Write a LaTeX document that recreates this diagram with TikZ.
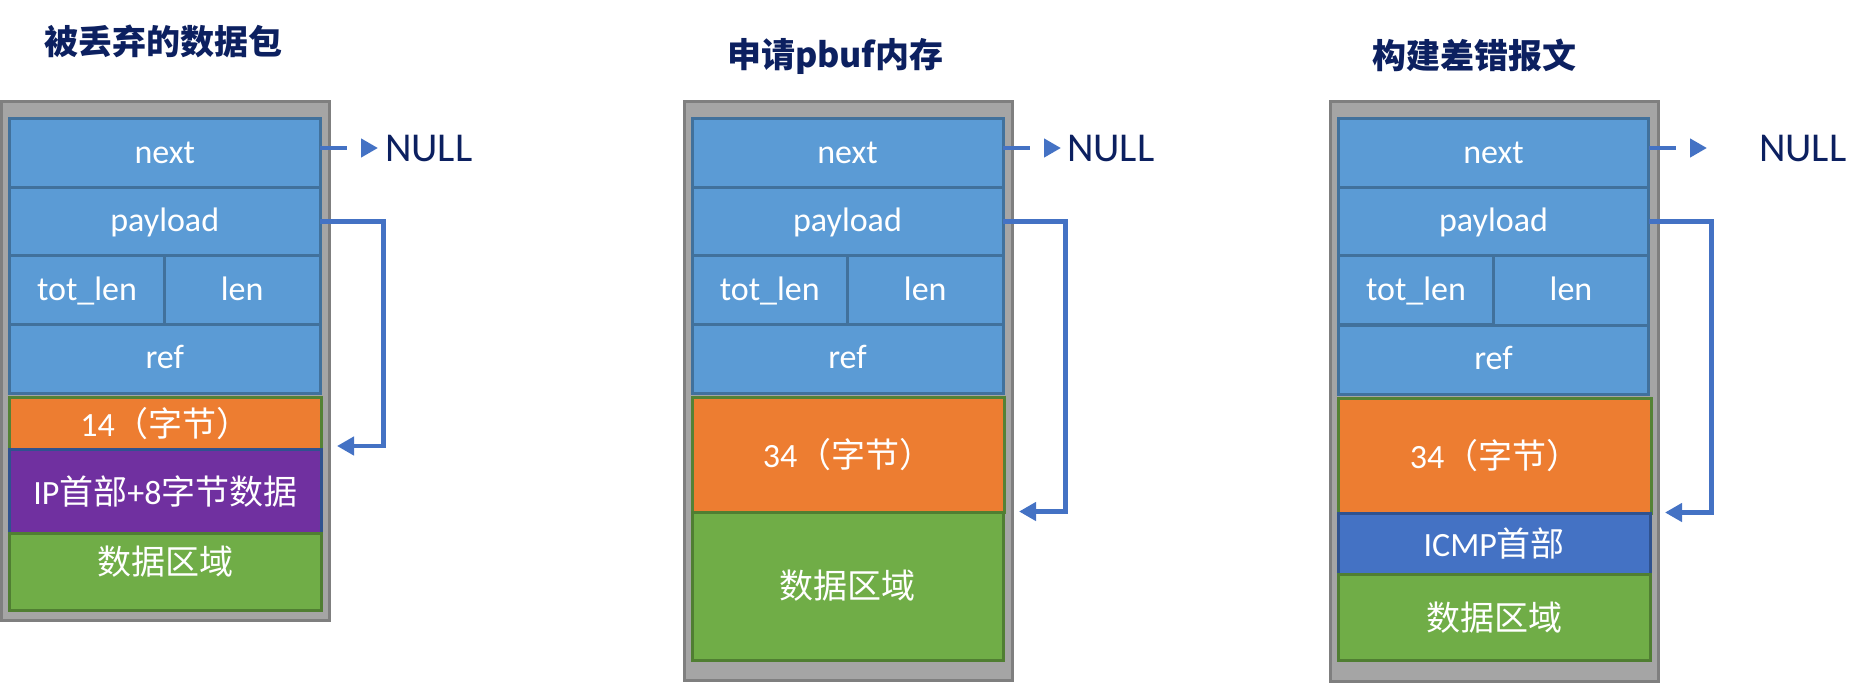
\documentclass[tikz,border=0pt]{standalone}
\usepackage{fontspec}
\setmainfont{Carlito}
\newfontfamily\cjk{Noto Sans CJK SC}
\usetikzlibrary{positioning, arrows.meta, calc}
\definecolor{shellgray}{RGB}{165,165,165}
\definecolor{shellline}{RGB}{127,127,127}
\definecolor{fieldblue}{RGB}{91,155,213}
\definecolor{fieldline}{RGB}{65,113,156}
\definecolor{hdrorange}{RGB}{237,125,49}
\definecolor{hdrline}{RGB}{84,130,53}
\definecolor{ippurple}{RGB}{112,48,160}
\definecolor{icmpblue}{RGB}{68,114,196}
\definecolor{darkline}{RGB}{47,82,143}
\definecolor{datagreen}{RGB}{112,173,71}
\definecolor{dataline}{RGB}{80,126,50}
\definecolor{ptrblue}{RGB}{68,114,196}
\definecolor{inknavy}{RGB}{12,32,96}

\begin{document}
\begin{tikzpicture}[x=1pt, y=-1pt,
    every node/.style={inner sep=0pt, outer sep=0pt},
    shell/.style={draw=shellline, fill=shellgray, line width=3pt},
    cell/.style={line width=3pt, text=white, anchor=north west,
      font=\fontsize{34}{40}\selectfont},
    field/.style={cell, draw=fieldline, fill=fieldblue,
      text height=24pt, text depth=4pt},
    hdrbox/.style={cell, draw=hdrline, fill=hdrorange},
    ipbox/.style={cell, draw=darkline, fill=ippurple},
    icmpbox/.style={cell, draw=darkline, fill=icmpblue},
    databox/.style={cell, draw=dataline, fill=datagreen},
    headline/.style={anchor=west, text=inknavy,
      font=\cjk\bfseries\fontsize{34}{40}\selectfont},
    nullmark/.style={text=inknavy, font=\fontsize{41}{48}\selectfont},
    ptr/.style={draw=ptrblue, line width=4.5pt,
      -{Triangle[length=17pt, width=18pt]}},
    nextptr/.style={ptr, dash pattern=on 27pt off 20pt}]
  \useasboundingbox (0,0) rectangle (1863,686);

  % 被丢弃的数据包
  \node[headline] (a-title) at (44,41) {被丢弃的数据包};
  \draw[shell] (1.5,101) rectangle (329.5,620.5);
  \node[field, minimum width=310.5pt, minimum height=69pt] (a-next) at (9.5,118.5) {next};
  \node[field, minimum width=310.5pt, minimum height=68pt] (a-payload) at (9.5,187.5) {payload};
  \node[field, minimum width=155pt, minimum height=69pt] (a-totlen) at (9.5,255.5) {tot\_len};
  \node[field, minimum width=155.5pt, minimum height=69pt] (a-len) at (164.5,255.5) {len};
  \node[field, minimum width=310.5pt, minimum height=68.5pt] (a-ref) at (9.5,324.5) {ref};
  \node[hdrbox, minimum width=312pt, minimum height=52pt] (a-hdr) at (9.5,397.5) {14{\cjk（字节）}};
  \node[ipbox, minimum width=312pt, minimum height=84pt] (a-ip) at (9.5,449.5) {IP{\cjk 首部}+8{\cjk 字节数据}};
  \node[databox, minimum width=312pt, minimum height=77pt, text depth=24pt] (a-data) at (9.5,533.5) {\cjk 数据区域};
  \coordinate (a-nil) at (378,148);
  \node[nullmark, right=7pt of a-nil] (a-null) {NULL};
  \draw[nextptr] (a-next.east |- a-nil) -- (a-nil);
  \coordinate (a-bend) at (383.5,446);
  \coordinate (a-ret) at (337,446);
  \draw[ptr] (a-payload.east) -| (a-bend) -- (a-ret);

  % 申请pbuf内存
  \node[headline] (b-title) at (727,56) {申请pbuf内存};
  \draw[shell] (684.5,101) rectangle (1012,680.5);
  \node[field, minimum width=311pt, minimum height=69pt] (b-next) at (692,118.5) {next};
  \node[field, minimum width=311pt, minimum height=68pt] (b-payload) at (692,187.5) {payload};
  \node[field, minimum width=155.5pt, minimum height=69pt] (b-totlen) at (692,255.5) {tot\_len};
  \node[field, minimum width=155.5pt, minimum height=69pt] (b-len) at (847.5,255.5) {len};
  \node[field, minimum width=311pt, minimum height=68.5pt] (b-ref) at (692,324.5) {ref};
  \node[hdrbox, minimum width=312pt, minimum height=114.5pt] (b-hdr) at (692,397.5) {34{\cjk（字节）}};
  \node[databox, minimum width=311pt, minimum height=148pt] (b-data) at (692,512) {\cjk 数据区域};
  \coordinate (b-nil) at (1061,148);
  \node[nullmark, right=6pt of b-nil] (b-null) {NULL};
  \draw[nextptr] (b-next.east |- b-nil) -- (b-nil);
  \coordinate (b-bend) at (1065.5,511.5);
  \coordinate (b-ret) at (1019,511.5);
  \draw[ptr] (b-payload.east) -| (b-bend) -- (b-ret);

  % 构建差错报文
  \node[headline] (c-title) at (1372,55) {构建差错报文};
  \draw[shell] (1330.5,101) rectangle (1658.5,681);
  \node[field, minimum width=310pt, minimum height=69pt] (c-next) at (1338.5,118.5) {next};
  \node[field, minimum width=310pt, minimum height=68pt] (c-payload) at (1338.5,187.5) {payload};
  \node[field, minimum width=155pt, minimum height=69pt] (c-totlen) at (1338.5,255.5) {tot\_len};
  \node[field, minimum width=155pt, minimum height=69.5pt] (c-len) at (1493.5,255.5) {len};
  \node[field, minimum width=310pt, minimum height=69pt] (c-ref) at (1338.5,325) {ref};
  \node[hdrbox, minimum width=313pt, minimum height=115pt] (c-hdr) at (1338.5,398) {34{\cjk（字节）}};
  \node[icmpbox, minimum width=311.5pt, minimum height=61pt] (c-icmp) at (1338.5,513) {ICMP{\cjk 首部}};
  \node[databox, minimum width=311.5pt, minimum height=86.5pt] (c-data) at (1338.5,574) {\cjk 数据区域};
  \coordinate (c-nil) at (1707,148);
  \node[nullmark, right=52pt of c-nil] (c-null) {NULL};
  \draw[nextptr] (c-next.east |- c-nil) -- (c-nil);
  \coordinate (c-bend) at (1711.5,512.5);
  \coordinate (c-ret) at (1665,512.5);
  \draw[ptr] (c-payload.east) -| (c-bend) -- (c-ret);
\end{tikzpicture}
\end{document}
